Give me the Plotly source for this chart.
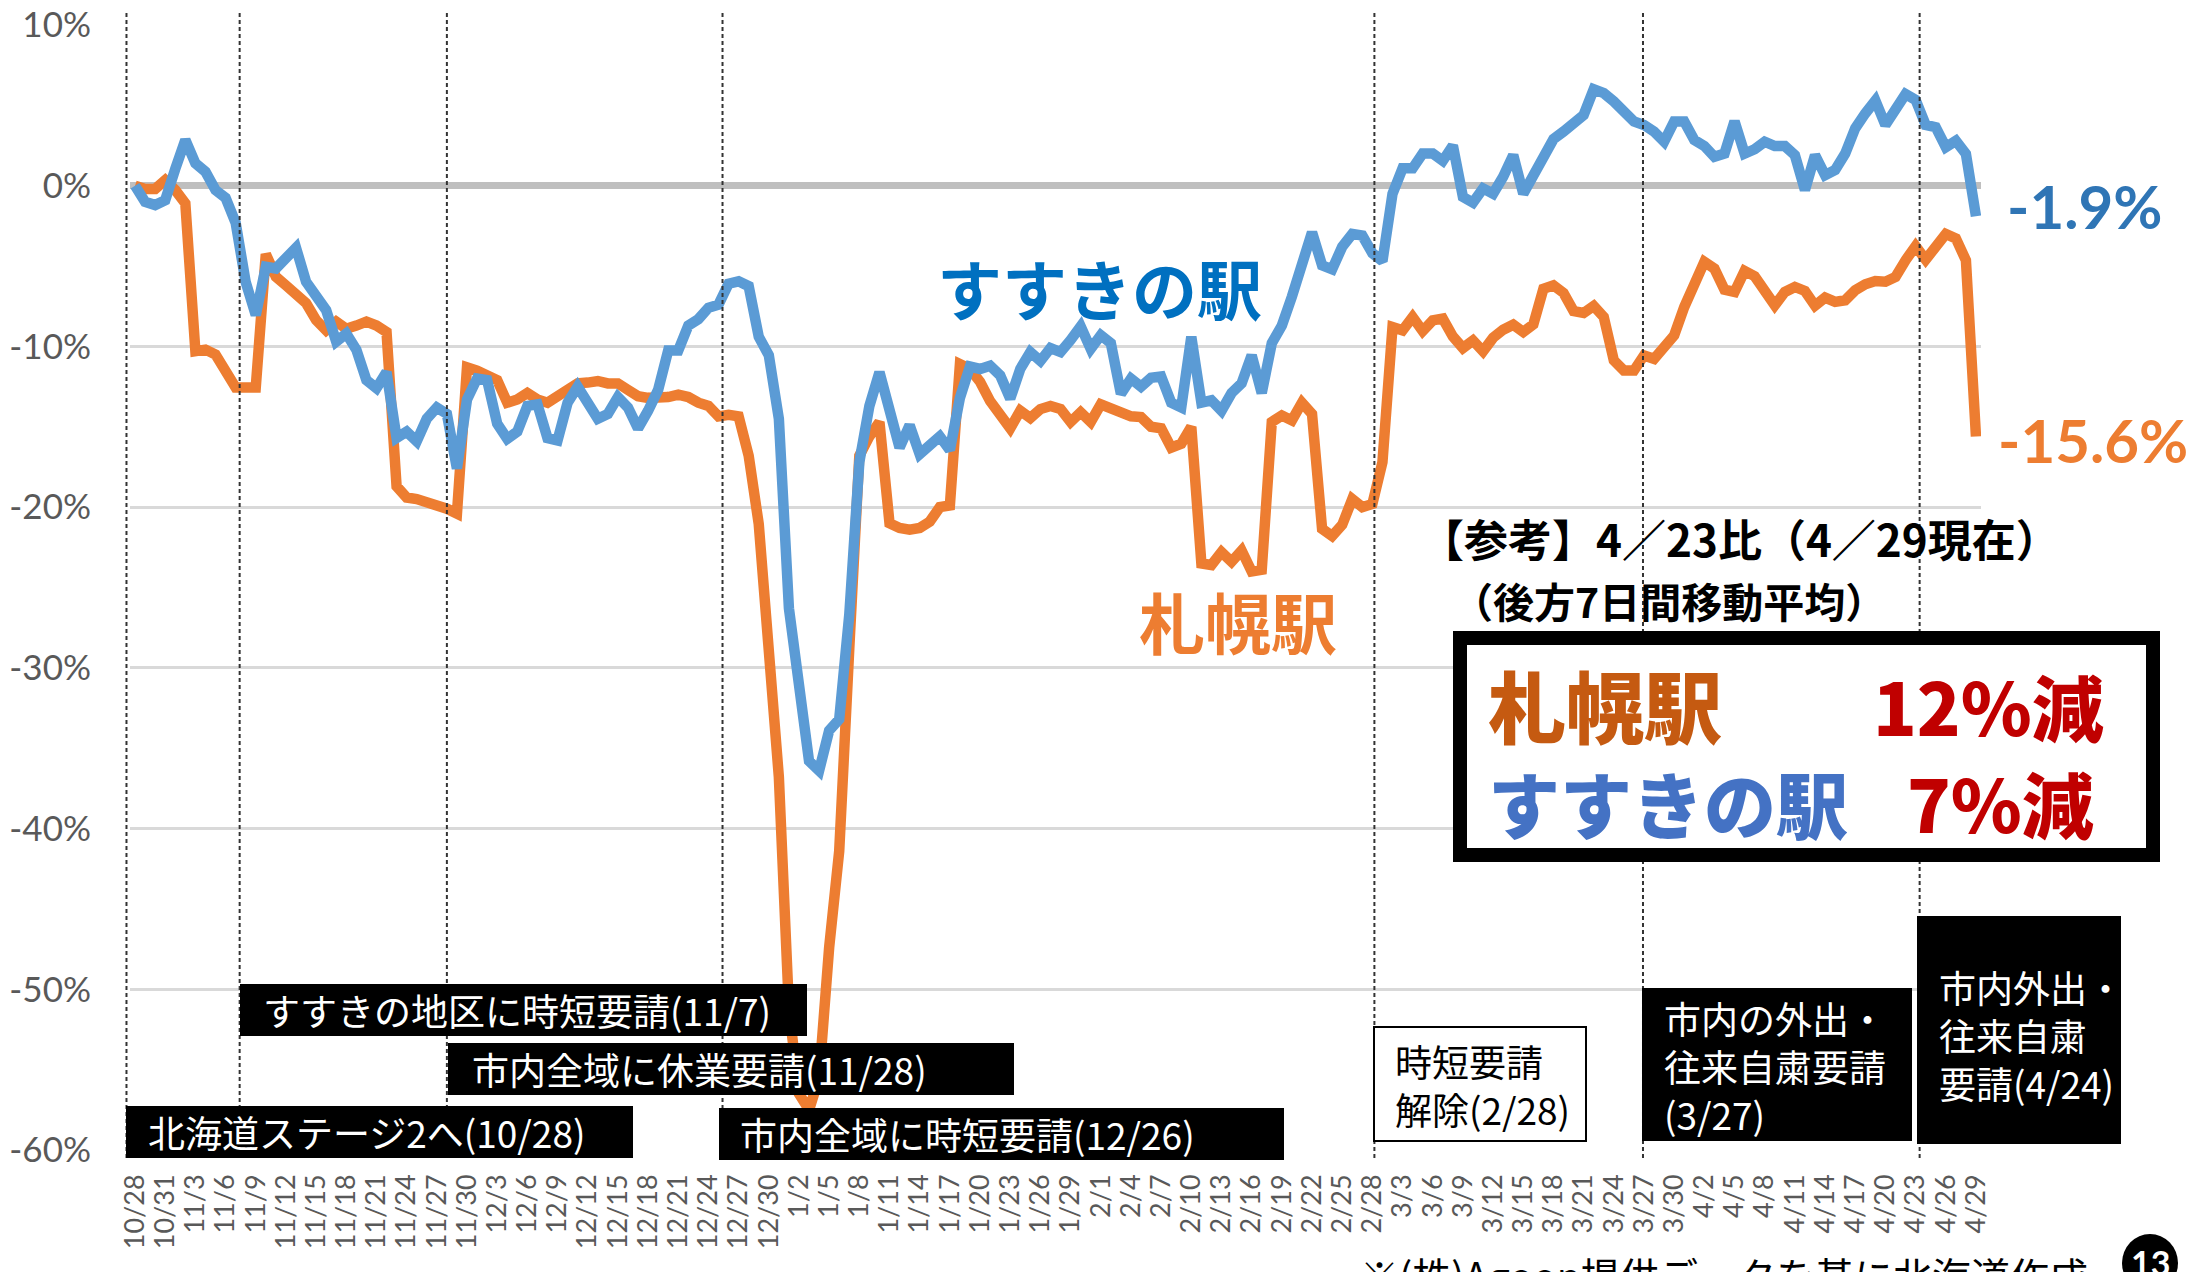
import plotly.graph_objects as go
import pandas as pd

# ---------------- data ----------------
days = [d.strftime("%-m/%-d") for d in pd.date_range("2020-10-28", "2021-04-29")]

tick_labels = ["10/28", "10/31", "11/3", "11/6", "11/9", "11/12", "11/15", "11/18", "11/21",
               "11/24", "11/27", "11/30", "12/3", "12/6", "12/9", "12/12", "12/15", "12/18",
               "12/21", "12/24", "12/27", "12/30", "1/2", "1/5", "1/8", "1/11", "1/14", "1/17",
               "1/20", "1/23", "1/26", "1/29", "2/1", "2/4", "2/7", "2/10", "2/13", "2/16",
               "2/19", "2/22", "2/25", "2/28", "3/3", "3/6", "3/9", "3/12", "3/15", "3/18",
               "3/21", "3/24", "3/27", "3/30", "4/2", "4/5", "4/8", "4/11", "4/14", "4/17",
               "4/20", "4/23", "4/26", "4/29"]

# 札幌駅 (%)
sapporo = [
    0.0, -0.2, -0.2, 0.35, -0.27, -1.1, -10.3, -10.2, -10.5, -11.6,
    -12.55, -12.55, -12.55, -4.25, -5.66, -6.2, -6.66, -7.3, -8.36, -9.0,
    -8.46, -8.9, -8.7, -8.46, -8.7, -9.1, -18.7, -19.4, -19.5, -19.7,
    -19.8, -20.1, -20.4, -11.3, -11.5, -11.75, -12.1, -13.5, -13.3, -12.9,
    -13.3, -13.5, -13.05, -12.8, -12.3, -12.25, -12.15, -12.3, -12.3, -12.7,
    -13.1, -13.2, -13.2, -13.15, -13.0, -13.15, -13.5, -13.7, -14.35, -14.25,
    -14.35, -16.8, -21.05, -29.5, -36.8, -51.2, -56.5, -57.5, -55.5, -47.4,
    -41.4, -28.8, -16.8, -15.6, -14.7, -21.0, -21.3, -21.4, -21.3, -20.9,
    -20.0, -19.9, -11.1, -11.4, -12.2, -13.4, -14.35, -15.1, -14.0, -14.45,
    -13.9, -13.7, -13.9, -14.7, -14.1, -14.7, -13.6, -13.9, -14.1, -14.35,
    -14.4, -15.0, -15.1, -16.3, -16.05, -15.0, -23.5, -23.6, -22.8, -23.4,
    -22.7, -24.0, -23.9, -14.7, -14.3, -14.6, -13.5, -14.2, -21.35, -21.8,
    -21.1, -19.5, -20.0, -19.8, -17.2, -8.8, -9.0, -8.17, -9.04, -8.38,
    -8.27, -9.38, -10.1, -9.63, -10.3, -9.46, -8.96, -8.65, -9.1, -8.63,
    -6.42, -6.2, -6.67, -7.8, -7.92, -7.48, -8.17, -10.87, -11.5, -11.5,
    -10.56, -10.77, -10.04, -9.31, -7.55, -5.99, -4.74, -5.16, -6.47, -6.61,
    -5.3, -5.63, -6.55, -7.44, -6.61, -6.3, -6.55, -7.46, -6.96, -7.23,
    -7.13, -6.5, -6.13, -5.93, -5.97, -5.68, -4.64, -3.76, -4.6, -3.9,
    -3.0, -3.28, -4.64, -15.6]

# すすきの駅 (%)
susukino = [
    0.0, -1.0, -1.2, -0.9, 1.05, 2.85, 1.4, 0.87, -0.27, -0.75,
    -2.3, -6.0, -8.05, -5.04, -5.15, -4.6, -3.86, -5.97, -6.9, -7.74,
    -9.7, -9.2, -10.2, -12.1, -12.6, -11.6, -15.7, -15.3, -15.9, -14.5,
    -13.8, -14.2, -17.6, -13.3, -12.0, -12.1, -14.8, -15.75, -15.3, -13.7,
    -13.6, -15.7, -15.85, -13.5, -12.5, -13.4, -14.5, -14.2, -13.15, -13.8,
    -15.1, -14.0, -12.7, -10.25, -10.25, -8.7, -8.3, -7.6, -7.4, -6.1,
    -5.95, -6.25, -9.4, -10.55, -14.5, -26.3, -31.6, -35.8, -36.4, -33.9,
    -33.2, -26.7, -17.2, -13.7, -11.6, -13.8, -16.3, -14.9, -16.7, -16.15,
    -15.6, -16.45, -13.2, -11.25, -11.4, -11.2, -11.8, -13.25, -11.4, -10.35,
    -10.9, -10.1, -10.35, -9.6, -8.75, -10.15, -9.3, -9.8, -12.95, -12.0,
    -12.5, -11.95, -11.87, -13.5, -13.8, -9.4, -13.5, -13.35, -14.0, -12.9,
    -12.3, -10.55, -12.9, -9.8, -8.7, -6.9, -4.95, -2.9, -4.95, -5.2,
    -3.8, -3.0, -3.1, -4.2, -4.7, -0.5, 1.08, 1.08, 2.0, 2.0,
    1.55, 2.5, -0.7, -1.05, -0.17, -0.5, 0.56, 1.9, -0.5, 0.66,
    1.8, 2.9, 3.37, 3.8, 4.4, 6.0, 5.76, 5.24, 4.6, 4.0,
    3.78, 3.37, 2.74, 4.0, 4.0, 2.85, 2.47, 1.8, 2.0, 4.0,
    2.0, 2.27, 2.74, 2.47, 2.47, 1.9, -0.27, 1.9, 0.66, 0.98,
    2.0, 3.58, 4.5, 5.3, 3.78, 4.68, 5.7, 5.34, 3.78, 3.64,
    2.4, 2.8, 1.98, -1.9]

y_ticks = [-60, -50, -40, -30, -20, -10, 0, 10]
y_tick_labels = ["-60%", "-50%", "-40%", "-30%", "-20%", "-10%", "0%", "10%"]

# event marker lines (category positions, as drawn)
event_pos = [-0.85, 10.4, 31.0, 58.4, 123.2, 149.9, 177.4]

# ---------------- geometry helpers (target pixel -> paper) ----------------
W_FIG, H_FIG = 2195, 1272
PAGE_OFF = 8  # default page body margin shifts the svg by 8px
L, R, T, B = 130, 1981, 25, 1150
PW, PH = R - L, B - T
N = len(days)


def fx(px):
    return (px - L) / PW


def fy(py):
    return (B - py) / PH


x_idx = list(range(N))

fig = go.Figure()
fig.add_trace(go.Scatter(x=x_idx, y=sapporo, mode="lines", name="札幌駅",
                         line=dict(color="#ED7D31", width=10.5)))
fig.add_trace(go.Scatter(x=x_idx, y=susukino, mode="lines", name="すすきの駅",
                         line=dict(color="#5B9BD5", width=10.5)))

shapes = []
# dashed event lines
for p in event_pos:
    xp = (p + 0.5) / N
    shapes.append(dict(type="line", xref="paper", yref="paper", x0=xp, x1=xp,
                       y0=fy(1158), y1=fy(12),
                       line=dict(color="#333333", width=2, dash="4px,3px"), layer="above"))

# event boxes
boxes = [
    (126, 633, 1106, 1158, "北海道ステージ2へ(10/28)", 146, 1132, "black"),
    (240, 807, 984, 1036, "すすきの地区に時短要請(11/7)", 261, 1010, "black"),
    (448, 1014, 1043, 1095, "市内全域に休業要請(11/28)", 470, 1069, "black"),
    (719, 1284, 1108, 1160, "市内全域に時短要請(12/26)", 738, 1134, "black"),
    (1373, 1587, 1026, 1142, "時短要請<br>解除(2/28)", 1393, 1085, "white"),
    (1642, 1912, 988, 1141, "市内の外出・<br>往来自粛要請<br>(3/27)", 1662, 1066, "black"),
    (1917, 2121, 916, 1144, "市内外出・<br>往来自粛<br>要請(4/24)", 1937, 1035, "black"),
]
annotations = []
for x0, x1, y0, y1, txt, tx, ty, fill in boxes:
    if fill == "black":
        shapes.append(dict(type="rect", xref="paper", yref="paper", x0=fx(x0), x1=fx(x1),
                           y0=fy(y1), y1=fy(y0), fillcolor="black", line=dict(width=0),
                           layer="above"))
        tcol = "white"
    else:
        shapes.append(dict(type="rect", xref="paper", yref="paper", x0=fx(x0 + 1), x1=fx(x1 - 1),
                           y0=fy(y1 - 1), y1=fy(y0 + 1), fillcolor="white",
                           line=dict(color="black", width=2), layer="above"))
        tcol = "black"
    annotations.append(dict(xref="paper", yref="paper", x=fx(tx), y=fy(ty), text=txt,
                            xanchor="left", yanchor="middle", align="left", showarrow=False,
                            font=dict(family="Noto Sans CJK JP", size=37, color=tcol)))

# summary box
shapes.append(dict(type="rect", xref="paper", yref="paper", x0=fx(1460), x1=fx(2153),
                   y0=fy(855), y1=fy(638), fillcolor="white",
                   line=dict(color="black", width=14), layer="above"))

# circle page number
shapes.append(dict(type="circle", xref="paper", yref="paper", x0=fx(2122), x1=fx(2178),
                   y0=fy(1292), y1=fy(1234), fillcolor="black", line=dict(width=0),
                   layer="above"))

fig.update_layout(shapes=shapes)


def ann(text, x, y, size, color, xanchor="left", weight="normal", family="Noto Sans CJK JP"):
    annotations.append(dict(xref="paper", yref="paper", x=fx(x), y=fy(y), text=text,
                            xanchor=xanchor, yanchor="middle", showarrow=False,
                            font=dict(family=family, size=size, color=color, weight=weight)))


# series labels
ann("すすきの駅", 935, 287, 65, "#0070C0", weight="bold")
ann("札幌駅", 1137, 620, 66, "#ED7D31", weight="bold")
ann("-1.9%", 2005, 206, 60, "#2F75B5", weight="bold", family="Lato")
ann("-15.6%", 1996, 440, 60, "#ED7D31", weight="bold", family="Lato")

# reference texts
ann("【参考】4／23比（4／29現在）", 1418, 538, 44, "black", weight="bold")
ann("（後方7日間移動平均）", 1450, 600, 41, "black", weight="bold")
ann("札幌駅", 1486, 704, 78, "#C55A11", weight=900)
ann("12%減", 1871, 704, 72, "#C00000", weight=900)
ann("すすきの駅", 1486, 801, 72, "#4472C4", weight=900)
ann("7%減", 1905, 801, 72, "#C00000", weight=900)

# footer
ann("※(株)Agoop提供データを基に北海道作成", 1358, 1274, 39, "black")
annotations.append(dict(xref="paper", yref="paper", x=fx(2150), y=fy(1263), text="13",
                        xanchor="center", yanchor="middle", showarrow=False,
                        font=dict(family="Lato", size=34, color="white", weight="bold")))

fig.update_layout(
    width=W_FIG, height=H_FIG,
    margin=dict(l=L - PAGE_OFF, r=W_FIG - R + PAGE_OFF, t=T - PAGE_OFF,
                b=H_FIG - B + PAGE_OFF, pad=0, autoexpand=False),
    plot_bgcolor="white", paper_bgcolor="white",
    showlegend=False,
    font=dict(family="Noto Sans CJK JP"),
    annotations=annotations,
    xaxis=dict(range=[-0.5, N - 0.5], tickmode="array", automargin=False,
               tickvals=list(range(0, N, 3)), ticktext=tick_labels,
               tickangle=-90, showgrid=False, zeroline=False, showline=False,
               ticks="", ticklabelstandoff=18, ticklabeloverflow="allow",
               tickfont=dict(family="Lato", size=27, color="#595959")),
    yaxis=dict(range=[-60, 10], tickmode="array", tickvals=y_ticks, ticktext=y_tick_labels,
               automargin=False, ticklabeloverflow="allow",
               showgrid=True, gridcolor="#D9D9D9", gridwidth=2.5,
               zeroline=True, zerolinecolor="#BFBFBF", zerolinewidth=6.5,
               showline=False, ticks="", ticklabelstandoff=38,
               tickfont=dict(family="Lato", size=35, color="#595959")),
)

fig.write_html("out.html")
